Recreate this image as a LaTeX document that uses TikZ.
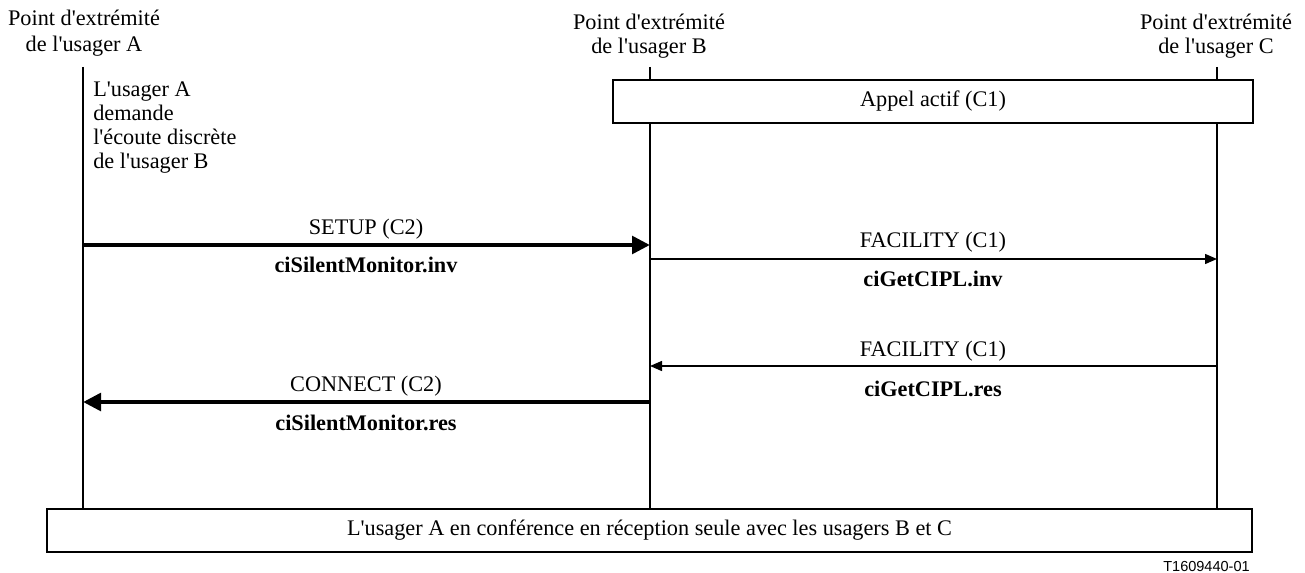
\documentclass[tikz,border=0pt]{standalone}
\usepackage{fontspec}
\setmainfont{Liberation Serif}[Ligatures=TeXOff]
\setsansfont{Liberation Sans}[Ligatures=TeXOff]
\usetikzlibrary{arrows.meta}
\begin{document}
\begin{tikzpicture}[x=0.75pt,y=-0.75pt,
  font=\fontsize{16.7}{17.8}\selectfont,
  lifeline/.style={line width=1.5pt},
  bigmsg/.style={line width=3.4pt,-{Triangle[length=13.5pt,width=13pt]}},
  smallmsg/.style={line width=1.1pt,-{Triangle[length=9pt,width=7.5pt]}},
  bar/.style={draw,line width=1.1pt,fill=white,inner sep=0pt},
  lbl/.style={inner sep=0pt,anchor=base},
  blbl/.style={lbl,font=\fontsize{16.7}{17.8}\selectfont\bfseries}]
\useasboundingbox (0,0) rectangle (1305,573);

% endpoint headers, one node per line
\node[lbl] (hA1) at (84,26) {Point d'extrémité};
\node[lbl] (hA2) at (84,52) {de l'usager A};
\node[lbl] (hB1) at (649,30) {Point d'extrémité};
\node[lbl] (hB2) at (649,54) {de l'usager B};
\node[lbl] (hC1) at (1216,30) {Point d'extrémité};
\node[lbl] (hC2) at (1216,54) {de l'usager C};

% lifelines
\coordinate (Atop) at (83,67);  \coordinate (Abot) at (83,510);
\coordinate (Btop) at (650,67); \coordinate (Bbot) at (650,510);
\coordinate (Ctop) at (1217,67); \coordinate (Cbot) at (1217,510);
\draw[lifeline] (Atop) -- (Abot);
\draw[lifeline] (Btop) -- (Bbot);
\draw[lifeline] (Ctop) -- (Cbot);

% active call bar
\node[bar,minimum width=640*0.75pt,minimum height=43*0.75pt] (actif) at (933,101.5) {Appel actif (C1)};

% request note
\node[inner sep=0pt,align=left,anchor=north west] (note) at (93,82)
  {L'usager A\\demande\\l'écoute discrète\\de l'usager B};

% message anchors on lifelines
\coordinate (s1) at (83,245);  \coordinate (e1) at (650,245);
\coordinate (s2) at (650,259); \coordinate (e2) at (1217,259);
\coordinate (s3) at (1217,366); \coordinate (e3) at (650,366);
\coordinate (s4) at (650,402); \coordinate (e4) at (83,402);

\draw[bigmsg] (s1) -- (e1);
\draw[smallmsg] (s2) -- (e2);
\draw[smallmsg] (s3) -- (e3);
\draw[bigmsg] (s4) -- (e4);

% message labels
\node[lbl] (m1) at (366,235) {SETUP (C2)};
\node[blbl] (m1b) at (366,273) {ciSilentMonitor.inv};
\node[lbl] (m2) at (933,248) {FACILITY (C1)};
\node[blbl] (m2b) at (933,287) {ciGetCIPL.inv};
\node[lbl] (m3) at (933,356) {FACILITY (C1)};
\node[blbl] (m3b) at (933,396) {ciGetCIPL.res};
\node[lbl] (m4) at (366,391) {CONNECT (C2)};
\node[blbl] (m4b) at (366,430) {ciSilentMonitor.res};

% conference bar
\node[bar,minimum width=1205*0.75pt,minimum height=43*0.75pt] (conf) at (649.5,530.5)
  {L'usager A en conférence en réception seule avec les usagers B et C};

% figure reference
\node[inner sep=0pt,anchor=base east,font=\sffamily\fontsize{10.9}{12}\selectfont] (ref) at (1250,571) {T1609440-01};
\end{tikzpicture}
\end{document}
